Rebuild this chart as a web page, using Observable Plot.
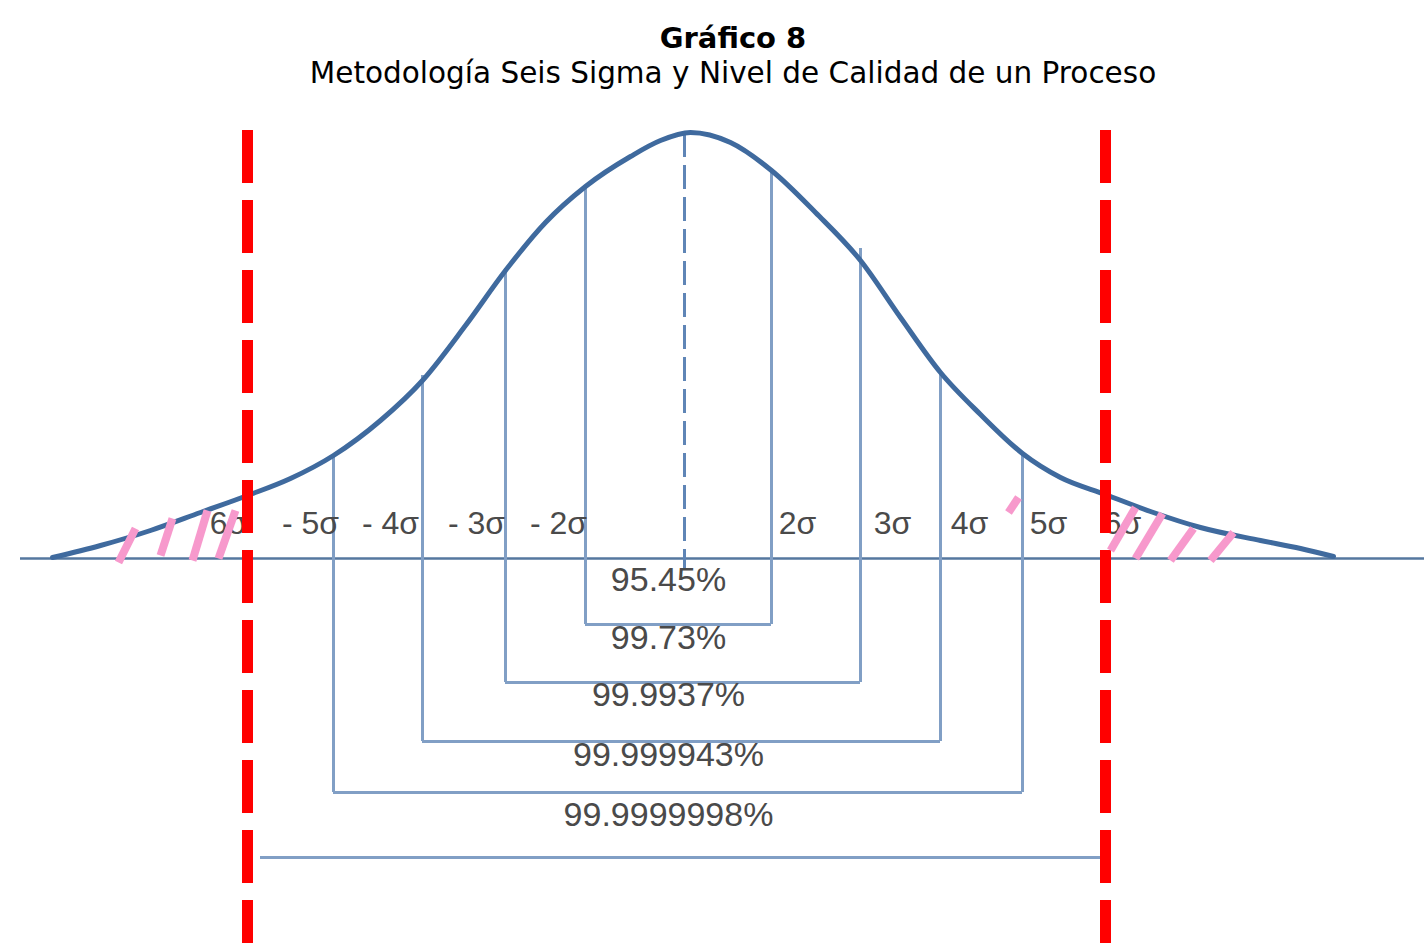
<!DOCTYPE html>
<html><head><meta charset="utf-8">
<script src="https://cdn.jsdelivr.net/npm/d3@7"></script>
<script src="https://cdn.jsdelivr.net/npm/@observablehq/plot@0.6"></script>
<style>
html,body{margin:0;padding:0;background:#fff;overflow:hidden;}
#head{height:100px;width:1424px;text-align:center;font-family:"DejaVu Sans",Verdana,sans-serif;color:#000;box-sizing:border-box;padding-top:21px;padding-left:42px;}
#head .t{font-weight:bold;font-size:29px;line-height:35px;}
#head .s{font-size:29.5px;line-height:35px;}
#chart{height:843px;}
#chart svg{display:block;}
</style></head><body>
<div id="head"><div class="t">Gráfico 8</div><div class="s">Metodología Seis Sigma y Nivel de Calidad de un Proceso</div></div>
<div id="chart"></div>
<script>
// Bell curve outline (schematic position units, height above baseline)
const curveX = [52, 100, 150, 200, 247, 290, 333, 380, 422, 465, 505, 545, 585, 630, 660, 690, 730, 771, 815, 860, 900, 940, 980, 1022, 1060, 1105, 1150, 1200, 1260, 1300, 1333];
const curveH = [1, 13, 28, 46, 63, 80, 103, 138, 178, 233, 288, 336, 372, 402, 418, 426, 416, 388, 346, 298, 241, 186, 144, 105, 81, 64, 47, 31, 18, 10, 2];

// Sigma interval brackets
const pctLabels = ["95.45%", "99.73%", "99.9937%", "99.999943%", "99.9999998%"];
const bracketLeft = [585, 505, 422, 333, 260];
const bracketRight = [771, 860, 940, 1022, 1100];
const bracketLevel = [-66, -124, -183, -234, -299];
const topLeft = [372, 290, 183, 103, null];
const topRight = [388, 310, 186, 105, null];
const pctY = [-22, -80, -137, -197, -257];
const pctX = [668, 668, 668, 668, 668];

// Sigma tick labels
const sigmaLabels = ["6σ", "- 5σ", "- 4σ", "- 3σ", "- 2σ", "2σ", "3σ", "4σ", "5σ", "6σ"];
const sigmaX = [228, 310, 390, 476, 558, 797, 892, 969, 1048, 1122];
const sigmaY = [35, 35, 35, 35, 35, 35, 35, 35, 35, 35];

// Specification limits (±6σ) and mean
const limitX = [247, 1105];
const meanX = [684];

// Pink hatch strokes in the tails
const hatchX1 = [118, 160, 192, 218, 1110, 1135, 1170, 1210, 1008];
const hatchY1 = [-4, 3, -2, 0, 8, 0, -2, -2, 46];
const hatchX2 = [135, 172, 207, 235, 1135, 1162, 1193, 1233, 1018];
const hatchY2 = [30, 40, 48, 48, 51, 45, 30, 26, 61];

const curve = curveX.map((x, i) => ({x, h: curveH[i]}));
const brackets = pctLabels.map((label, i) => ({
  label, left: bracketLeft[i], right: bracketRight[i], level: bracketLevel[i],
  topL: topLeft[i], topR: topRight[i], px: pctX[i], py: pctY[i]
}));
const verticals = brackets.filter(d => d.topL != null);
const sigmas = sigmaLabels.map((label, i) => ({label, x: sigmaX[i], y: sigmaY[i]}));
const hatches = hatchX1.map((x1, i) => ({x1, y1: hatchY1[i], x2: hatchX2[i], y2: hatchY2[i]}));

const lineBlue = "#3f6a9e";
const lightBlue = "#819fc5";
const textGray = "#4a4a4a";
const font = "Liberation Sans, Arial, sans-serif";

const chart = Plot.plot({
  width: 1424, height: 843,
  marginTop: 0, marginBottom: 0, marginLeft: 0, marginRight: 0,
  x: {domain: [0, 1424], axis: null},
  y: {domain: [-385, 458], axis: null},
  style: {background: "#fff", overflow: "visible"},
  marks: [
    Plot.ruleY([0], {x1: 20, x2: 1424, stroke: "#55779f", strokeWidth: 2.5}),
    Plot.ruleX(verticals, {x: "left", y1: "topL", y2: "level", stroke: lightBlue, strokeWidth: 3}),
    Plot.ruleX(verticals, {x: "right", y1: "topR", y2: "level", stroke: lightBlue, strokeWidth: 3}),
    Plot.ruleY(brackets, {y: "level", x1: "left", x2: "right", stroke: lightBlue, strokeWidth: 3}),
    Plot.ruleX(meanX, {x: d => d, y1: 425, y2: -12, stroke: "#5f85b6", strokeWidth: 3, strokeDasharray: "24,8"}),
    Plot.line(curve, {x: "x", y: "h", stroke: lineBlue, strokeWidth: 5, curve: "monotone-x"}),
    Plot.text(sigmas, {x: "x", y: "y", text: "label", fill: textGray, fontSize: 32, fontFamily: font}),
    Plot.text(brackets, {x: "px", y: "py", text: "label", fill: textGray, fontSize: 34, fontFamily: font}),
    Plot.ruleX(limitX, {x: d => d, y1: 428, y2: -385, stroke: "#ff0000", strokeWidth: 11, strokeDasharray: "53,17"}),
    Plot.link(hatches, {x1: "x1", y1: "y1", x2: "x2", y2: "y2", stroke: "#f799cc", strokeWidth: 8})
  ]
});
document.getElementById("chart").appendChild(chart);
</script>
</body></html>
